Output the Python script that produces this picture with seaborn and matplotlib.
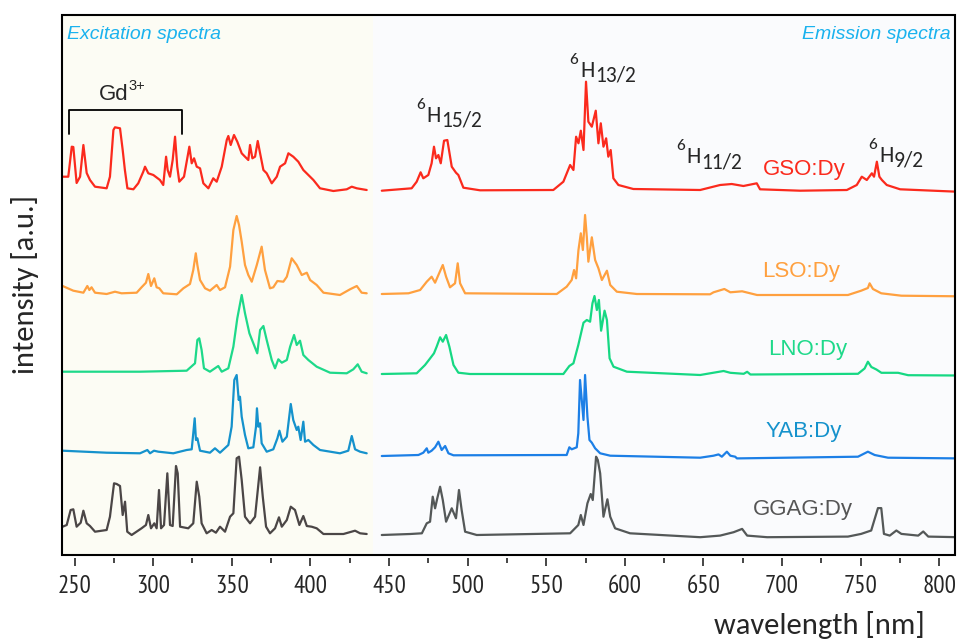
import matplotlib
matplotlib.use("Agg")
import matplotlib.pyplot as plt
from matplotlib.patches import Rectangle
import pandas as pd
import seaborn as sns

# Stacked Dy3+ spectra: (wavelength nm, intensity a.u. above the sample baseline)
samples = ["GSO:Dy", "LSO:Dy", "LNO:Dy", "YAB:Dy", "GGAG:Dy"]
offsets = [365, 261, 181, 99, 20]

gso_exc = [(242.4, 13.3), (246, 13.3), (248.2, 43.3), (249.2, 43), (251.3, 7), (253.5, 13.3),
           (255.6, 45), (257.7, 17), (259.8, 10), (263, 3.3), (270.4, 1.7), (272.5, 13.3),
           (274.7, 60), (275.7, 62.7), (278.9, 61.7), (280.6, 40), (282, 20), (283.6, 1.7),
           (287.4, 0.7), (290.5, 6.7), (293.7, 18.3), (294.8, 23.3), (296.9, 16.7), (300.1, 15),
           (304.3, 10), (306.4, 5), (308.2, 33.3), (309.2, 20), (310.7, 13.3), (312.4, 30),
           (313.9, 53.3), (315.3, 23.3), (316.6, 8.3), (319.6, 13.3), (321.3, 28.3), (323, 43.3),
           (324.5, 26.7), (326, 31.7), (327.7, 23.3), (329.8, 21.7), (331.9, 6.7), (335.1, 1.7),
           (338.2, 11.7), (340.4, 8.3), (343.6, 23.3), (346.8, 50), (347.8, 54), (349.3, 45),
           (351.4, 55), (353.5, 48.3), (356.3, 36.7), (358.4, 33.3), (360.5, 30), (361.6, 45),
           (363.1, 31.7), (364.8, 33.3), (366.5, 49), (368, 36.7), (370.1, 20), (372.2, 16.7),
           (375.4, 6.7), (378.6, 13.3), (380.7, 23.3), (383.9, 26.7), (386, 36.7), (389.1, 33.3),
           (392.3, 28.3), (395.5, 20), (398.7, 15), (401.9, 10), (406.1, 1.7), (414.6, -1),
           (423.1, 0.7), (426.3, 3.3), (429.5, 1.7), (435.8, 0)]
gso_em = [(445.4, -0.7), (464.4, 1.7), (467.6, 8.3), (470.1, 17.7), (471.8, 11.7), (475, 15),
          (477.1, 26.7), (478.6, 43.3), (479.9, 31.7), (481.4, 35), (482.9, 26.7), (485, 49.3),
          (487.1, 50), (489.9, 23.3), (492.6, 17.3), (494.1, 15), (497.3, 2.3), (507.9, -0.3),
          (554.5, 0), (560.9, 8.3), (565.2, 25), (567.3, 20), (569, 53.3), (570.5, 46.7),
          (572, 59.3), (573.7, 40), (575.3, 108.3), (576.8, 68.3), (579, 63.3), (581.5, 79.3),
          (583.2, 46.7), (584.7, 66.7), (586.4, 43.3), (588.1, 51.7), (589.5, 33.3), (591, 40),
          (592.7, 11.7), (595.9, 5), (605.4, 1), (647.9, 0), (660.6, 5), (668, 6), (675.4, 4),
          (683.9, 6.7), (686, 0.7), (711.5, -0.7), (741.2, 0), (747.5, 5), (750.7, 13.3),
          (753.9, 10), (757.1, 16.7), (758.5, 13.3), (760.3, 28.3), (761.9, 13.3), (763.5, 10),
          (766.6, 5), (775.1, 0.7), (811.2, -1.7)]

lso_exc = [(242.4, 8), (249.2, 3.3), (255.6, 1.3), (258.1, 8), (259.4, 4), (260.8, 6.7),
           (263, 1.3), (270.4, 0), (275.7, 2.3), (279.9, 0.7), (289.5, 1.3), (292.6, 6.7),
           (295.4, 11.3), (296.9, 20), (298.6, 8), (300.7, 15.7), (302.2, 6.7), (303.9, 5.7),
           (306.4, 0.7), (315, -0.3), (319.2, 5.7), (323.4, 10), (325.5, 24), (327.1, 40.7),
           (328.1, 29), (329.8, 14), (333, 5.7), (336.1, 3.3), (340.4, 9), (342.5, 4),
           (345.7, 6.7), (348.9, 27.3), (351, 64), (353.1, 78), (354.6, 69), (356.3, 52.3),
           (358.4, 29), (360.5, 19), (362.7, 12.3), (365.9, 29), (369, 47.3), (371.1, 24),
           (374.3, 5.7), (376.4, 6.7), (379, 13), (382.8, 12.3), (385, 17.3), (388.1, 35.7),
           (391.3, 29), (394.5, 19), (397.7, 21.3), (399.8, 14), (404, 9), (408.3, 1.3),
           (418.8, -1), (425.2, 4.7), (429.5, 8), (432.6, 1.3), (435.8, 0.7)]
lso_em = [(445.4, 0), (462.4, 0.7), (469.8, 4), (474, 12.3), (477.1, 17.3), (479.3, 11.3),
          (481.4, 19), (484.2, 29), (486.3, 17.3), (488.8, 6.7), (492, 10.7), (493.7, 30.7),
          (495.2, 10.7), (498.4, 0.7), (556.7, 0), (563, 7.3), (566.2, 14), (567.7, 24),
          (569, 15.7), (570.5, 44), (572, 60.7), (573.3, 44), (574.7, 79), (575.8, 57.3),
          (576.8, 32.3), (579, 56.7), (581.1, 34), (583.2, 25.7), (585.4, 14), (588.6, 23.3),
          (590.7, 9), (594.9, 2.3), (607.6, 0), (654.2, -0.3), (656.4, 1.7), (663.3, 5),
          (667.1, 1.7), (674.6, 2.7), (684.1, -1), (741.9, -1), (750.3, 3.3), (754.6, 6),
          (755.7, 10.7), (757.8, 5), (763.1, 0.7), (775.9, -1.7), (812.2, -2.3)]

lno_exc = [(242.4, 2.3), (291.6, 2.3), (321.3, 3.3), (326.6, 10.7), (328.1, 34), (329.3, 35.7),
           (330.8, 24), (332.3, 5.7), (336.1, 2.3), (341.4, 8), (343.6, 2.3), (347.8, 5.7),
           (351, 27.3), (353.5, 55.7), (356.3, 79), (358.4, 60.7), (361.2, 40.7), (363.7, 30.7),
           (366.2, 20.7), (368, 44), (370.1, 48), (372.2, 34), (375.4, 14), (377.5, 5.7),
           (379.6, 14.7), (381.8, 11.3), (385, 14), (387.1, 27.3), (389.6, 39), (391.3, 29),
           (393.4, 33.3), (395.5, 19), (398.7, 14), (404, 7.3), (412.5, 1.3), (423.1, 0.7),
           (427.3, 4.7), (430.1, 9.7), (432.6, 2.3), (435.8, 0.7)]
lno_em = [(445.4, 0), (467.6, 0.7), (472.9, 9), (475.7, 14.7), (478.6, 20.7), (480.3, 27.3),
          (482.5, 36.7), (484.2, 32.3), (486.3, 39), (488.4, 27.3), (491, 9), (494.1, 1.3),
          (501.5, 0), (560.9, 0), (564.7, 8), (567.3, 10.7), (570.4, 29), (573.7, 51.3),
          (575.8, 54), (577.9, 52.3), (579.4, 70.7), (580.7, 78), (582.2, 64), (583.5, 74),
          (584.9, 43.3), (587.1, 63.3), (588.6, 54), (590.3, 15.7), (592.8, 7.3), (601.3, 2.3),
          (647.9, -1), (662.8, 3), (667.1, 1.2), (675.6, 0.2), (677.8, 2.2), (679.9, -0.5),
          (748.3, 0.2), (752.5, 5.5), (754.6, 12.3), (756.8, 7), (760, 4.5), (763.2, 1.2),
          (773.8, 1.2), (780.2, -1.2), (812.2, -1.5)]

yab_exc = [(242.4, 5.3), (270.4, 3.3), (291.6, 2.7), (296.3, 6), (298, 2.7), (300.5, 5.3),
           (303.3, 4.3), (312.8, 2.7), (321.3, 6), (324.5, 6.7), (325.5, 22.7), (326.4, 37.7),
           (327.2, 16), (328.1, 17.7), (329.8, 5.3), (336.1, 3.3), (339.3, 7.7), (342.5, 3.3),
           (347.8, 11), (349.9, 29.3), (351.6, 76), (353.1, 81), (354.4, 56), (355.2, 59.3),
           (356.3, 39.3), (358.4, 21), (360.5, 7.7), (363.7, 8.7), (365.4, 29.3), (366, 47.7),
           (366.9, 29.3), (368, 32.7), (369, 12.7), (372.2, 4.3), (376.4, 6.7), (379, 17.7),
           (380.3, 25.3), (382.2, 14.3), (385, 19.3), (387.5, 52), (389.1, 36), (391.3, 26),
           (392.3, 29.3), (393.8, 16), (395.5, 34.3), (396.6, 14.3), (398.7, 16), (401.9, 11),
           (406.1, 6), (418.8, 2.7), (424.1, 5.3), (426.3, 20), (428.4, 6.7), (431.6, 4.3),
           (435.8, 2.7)]
yab_em = [(445.4, 0), (468.7, 1), (471.8, 3.3), (474, 7.7), (475, 3.3), (477.1, 5.3),
          (479.3, 8.7), (481.4, 14.3), (483.5, 6), (485.7, 10), (487.8, 2.7), (491, 0.7),
          (563, 1), (564.7, 8.7), (566.2, 6.7), (569.4, 8.7), (570.4, 22.7), (571.5, 76),
          (572.6, 56), (573.7, 36), (574.7, 81), (576.2, 39.3), (577.5, 16), (579, 13.3),
          (581.1, 7.7), (584.3, 2.7), (590.7, 0.3), (647.9, -1.7), (656.4, 0.3), (659.6, 1.6),
          (661.7, -0.7), (664.9, 4.3), (667.1, 0.3), (670.2, -0.7), (671.3, -2.4),
          (748.3, -0.7), (754.6, 4.3), (758.9, 1), (767.4, -1.7), (812.2, -2.4)]

ggag_exc = [(242.4, 8.3), (245, 10), (247.5, 25), (249.2, 25.7), (251.3, 8.3), (253.9, 12.3),
            (255.6, 24.3), (257.7, 11.7), (259.8, 9), (263, 3.3), (270.4, 5), (272.5, 18.3),
            (275.1, 51.7), (276.8, 51), (278.9, 49), (280.6, 20), (282.1, 33.3), (283.5, 3.3),
            (286.3, 0), (292.6, 6.7), (295.4, 10), (296.9, 20), (298.6, 6.7), (300.7, 11.7),
            (302.2, 6.7), (303.7, 45), (305, 6.7), (306.9, 10), (309, 61.7), (310.7, 10),
            (312.4, 9), (314.5, 69), (315.6, 61.7), (317.1, 8.3), (322.3, 6.7), (325.5, 11.7),
            (327.7, 53.3), (329.3, 38.3), (330.8, 11.7), (334, 1.7), (337.2, 5), (339.9, 2.3),
            (342.5, 8.3), (345.7, 3.3), (348.9, 18.3), (351, 21.7), (353.1, 76.7), (354.6, 78.3),
            (356.3, 55), (358.4, 18.3), (361.6, 11.7), (364.8, 18.3), (368, 67.7), (369.7, 38.3),
            (371.8, 8.3), (374.3, 1.7), (377.5, 6.7), (380, 17.7), (381.8, 8.3), (385, 15),
            (387.5, 28.3), (390.2, 25), (393, 10), (395.5, 19), (397.7, 9), (400.8, 8.3),
            (404, 6.7), (408.3, 1), (421, 1), (428.4, 4.3), (431.6, 1.7), (435.8, 1)]
ggag_em = [(445.4, 0), (463.5, 1), (470.9, 1.7), (474, 11.7), (476.1, 13.3), (477.8, 38.3),
           (479.3, 26.7), (480.7, 36.7), (482.5, 48.3), (484.2, 35), (486.3, 13.3), (489.9, 26.7),
           (492.6, 16.7), (494.5, 45), (496.2, 25), (498.4, 3.3), (505.8, 0), (565.2, 1.7),
           (570.4, 10), (572, 20), (573.7, 10), (576.2, 31.7), (578.3, 41), (579.6, 35),
           (581.7, 78.3), (582.8, 75), (584.3, 61.7), (586.4, 18.3), (588.9, 35.7), (590.7, 18.3),
           (593.8, 6.7), (603.3, 1.7), (647.9, -2.2), (660.6, -0.6), (669.2, 2.8), (674.6, 6.1),
           (677.8, -0.6), (690.5, -2.2), (741.9, -1.6), (750.3, 1.1), (756.7, 4.5), (761, 26.9),
           (763.1, 26.9), (764.8, 1.1), (768.5, -0.6), (772.7, 4.5), (775.9, 1.1), (786.6, -0.6),
           (789.8, 3.5), (793, -1.6), (812.2, -2.2)]

excitation = [gso_exc, lso_exc, lno_exc, yab_exc, ggag_exc]
emission = [gso_em, lso_em, lno_em, yab_em, ggag_em]

# Dy3+ 4F9/2 -> 6HJ terminal levels
terms = ["15/2", "13/2", "11/2", "9/2"]

# Styling
exc_colors = ["#fb2a1d", "#ffa03f", "#1ed98a", "#1592cc", "#4b4646"]
em_colors = ["#fb2a1d", "#ffa03f", "#16d883", "#1c7fe6", "#545858"]
label_colors = ["#fb2a1d", "#ffa03f", "#1ed98a", "#1592cc", "#555555"]
label_x = [714.4, 712.0, 716.0, 713.5, 713.5]
label_y = [386, 284, 206, 123, 45]
term_x = [478.6, 576.5, 644.0, 766.4]
term_y = [433.3, 478.3, 392.0, 393.3]

sns.set_style("white")
plt.rcParams["font.family"] = ["Liberation Sans", "DejaVu Sans"]
sans = ["Liberation Sans", "DejaVu Sans"]
humanist = ["Carlito", "DejaVu Sans"]
narrow = ["PT Sans Narrow", "DejaVu Sans"]

# Long-form table: one row per point, split into excitation/emission segments
rows = []
for name, off, exc, em in zip(samples, offsets, excitation, emission):
    for kind, spec in (("excitation", exc), ("emission", em)):
        for wl, val in spec:
            rows.append({"sample": name, "kind": kind, "wavelength": wl,
                         "signal": val + off})
df = pd.DataFrame(rows)

fig = plt.figure(figsize=(9.61, 6.41), dpi=100)
ax = fig.add_axes([62 / 961, 1 - 555 / 641, (955 - 62) / 961, (555 - 15) / 641])
ax.set_xlim(242, 810)
ax.set_ylim(0, 540)

ax.set_facecolor("#fafbfd")
ax.axvspan(242, 439.5, color="#fcfcf4", lw=0, zorder=0)

for i, name in enumerate(samples):
    for kind, cols in (("excitation", exc_colors), ("emission", em_colors)):
        seg = df[(df["sample"] == name) & (df["kind"] == kind)]
        sns.lineplot(data=seg, x="wavelength", y="signal", ax=ax, color=cols[i],
                     lw=1.6, sort=False, estimator=None, legend=False)
    ax.text(label_x[i], label_y[i], name, color=label_colors[i], fontsize=16,
            family=sans, ha="center", va="center")

# Gd3+ bracket over the excitation lines
ax.plot([246.5, 246.5, 318.3, 318.3], [421, 445, 445, 421], color="black", lw=1.3)
ax.text(284, 455, "Gd", fontsize=16, family=sans, ha="right", va="baseline")
ax.annotate("3+", xy=(284, 455), xytext=(0.5, 7), textcoords="offset points",
            fontsize=10.5, family=sans, ha="left", va="baseline")

# 6H_J term labels
for tx, ty, sub in zip(term_x, term_y, terms):
    ax.text(tx, ty, "H", fontsize=16.5, family=humanist, ha="center", va="baseline")
    ax.annotate("6", xy=(tx, ty), xytext=(-6.8, 9.5), textcoords="offset points",
                fontsize=12.5, family=humanist, ha="right", va="baseline")
    ax.annotate(sub, xy=(tx, ty), xytext=(5.3, -3.8), textcoords="offset points",
                fontsize=15.5, family=humanist, ha="left", va="baseline")

ax.text(0.006, 0.963, "Excitation spectra", transform=ax.transAxes, color="#1ab2ee",
        fontsize=14, style="italic", family=sans, ha="left", va="center")
ax.text(0.995, 0.963, "Emission spectra", transform=ax.transAxes, color="#1ab2ee",
        fontsize=14, style="italic", family=sans, ha="right", va="center")

# Frame drawn separately so the x ticks can sit just below it
for side in ("top", "right", "left"):
    ax.spines[side].set_visible(False)
ax.spines["bottom"].set_position(("outward", 2.2))
ax.spines["bottom"].set_visible(False)
ax.add_patch(Rectangle((0, 0), 1, 1, transform=ax.transAxes, fill=False,
                       ec="black", lw=1.5, clip_on=False, zorder=6))

ax.set_xticks(range(250, 801, 50))
ax.set_xticks(range(275, 801, 50), minor=True)
ax.tick_params(axis="x", which="major", direction="out", length=6, width=1.2,
               pad=6, labelsize=18, bottom=True)
ax.tick_params(axis="x", which="minor", direction="out", length=3.5, width=1.2, bottom=True)
for lab in ax.get_xticklabels():
    lab.set_family(narrow)
ax.set_yticks([])

ax.set_xlabel("wavelength [nm]", fontsize=22, family=humanist, loc="right")
ax.xaxis.set_label_coords(0.966, -0.103)
ax.set_ylabel("intensity [a.u.]", fontsize=22, family=humanist)
ax.yaxis.set_label_coords(-0.026, 0.5)

fig.savefig("out.png", dpi=100, facecolor="white")
